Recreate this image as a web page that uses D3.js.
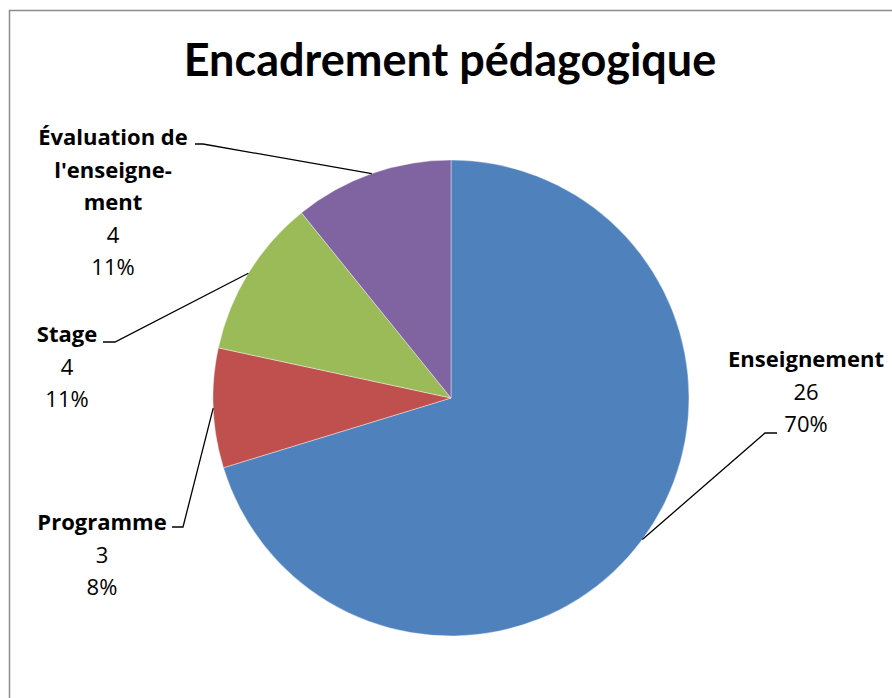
<!DOCTYPE html>
<html>
<head>
<meta charset="utf-8">
<script src="https://cdn.jsdelivr.net/npm/d3@7"></script>
<style>
  body { margin: 0; background: #fff; }
  svg { display: block; font-family: Lato, "Open Sans", sans-serif; }
</style>
</head>
<body>
<svg id="chart" width="892" height="698"></svg>
<script>
const categories = ["Enseignement", "Programme", "Stage", "Évaluation de l'enseignement"];
const values = [26, 3, 4, 4];
const colors = ["#4F81BD", "#C0504D", "#9BBB59", "#8064A2"];
const title = "Encadrement pédagogique";

// how each category name wraps in its label
const nameLines = {
  "Enseignement": ["Enseignement"],
  "Programme": ["Programme"],
  "Stage": ["Stage"],
  "Évaluation de l'enseignement": ["Évaluation de", "l'enseigne-", "ment"]
};
// label placement: centre x, first baseline, leader elbow and end
const labelPos = {
  "Enseignement": { x: 806, y: 367, elbow: [765, 433], end: [777, 433] },
  "Programme": { x: 102, y: 530, elbow: [183, 527], end: [172, 527] },
  "Stage": { x: 67, y: 342, elbow: [115, 342], end: [103, 342] },
  "Évaluation de l'enseignement": { x: 113, y: 145, elbow: [203, 144], end: [195, 144] }
};

const svg = d3.select("#chart");
const cx = 451, cy = 398, radius = 238;
const lineStep = 32.5;

svg.append("rect")
  .attr("x", 9.5).attr("y", 10.5)
  .attr("width", 900).attr("height", 700)
  .attr("fill", "none")
  .attr("stroke", "#8c8c8c")
  .attr("stroke-width", 1.5);

svg.append("text")
  .attr("x", 450).attr("y", 76)
  .attr("text-anchor", "middle")
  .attr("font-size", 45)
  .attr("font-weight", "bold")
  .attr("fill", "#000")
  .text(title);

const data = categories.map((c, i) => ({ name: c, value: values[i], color: colors[i] }));
const total = d3.sum(values);

const pie = d3.pie().value(d => d.value).sort(null);
const arc = d3.arc().innerRadius(0).outerRadius(radius);
const arcs = pie(data);

const g = svg.append("g").attr("transform", `translate(${cx},${cy})`);
g.selectAll("path")
  .data(arcs)
  .enter()
  .append("path")
  .attr("d", arc)
  .attr("fill", d => d.data.color)
  .attr("stroke", "#fff")
  .attr("stroke-width", 0.4);

// leader lines from slice edge midpoint
svg.selectAll("polyline.leader")
  .data(arcs)
  .enter()
  .append("polyline")
  .attr("class", "leader")
  .attr("fill", "none")
  .attr("stroke", "#000")
  .attr("stroke-width", 1.3)
  .attr("points", d => {
    const mid = (d.startAngle + d.endAngle) / 2;
    const p0 = [cx + radius * Math.sin(mid), cy - radius * Math.cos(mid)];
    const lp = labelPos[d.data.name];
    return [p0, lp.elbow, lp.end].map(p => p.join(",")).join(" ");
  });

const labels = svg.selectAll("text.label")
  .data(arcs)
  .enter()
  .append("text")
  .attr("class", "label")
  .attr("text-anchor", "middle")
  .attr("font-family", "'Open Sans', sans-serif")
  .attr("font-size", 22)
  .attr("fill", "#000");

labels.each(function (d) {
  const lp = labelPos[d.data.name];
  const t = d3.select(this);
  const lines = nameLines[d.data.name].map(s => ({ s, bold: true }))
    .concat([{ s: String(d.data.value), bold: false },
             { s: Math.round(d.data.value / total * 100) + "%", bold: false }]);
  lines.forEach((l, i) => {
    t.append("tspan")
      .attr("x", lp.x)
      .attr("y", lp.y + i * lineStep)
      .attr("font-weight", l.bold ? "bold" : "normal")
      .text(l.s);
  });
});
</script>
</body>
</html>
